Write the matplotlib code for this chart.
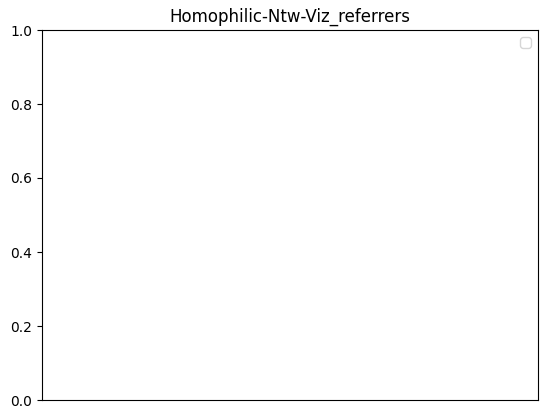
# empty network viz of referrers (nothing got drawn)
import matplotlib
matplotlib.use("Agg")
import matplotlib.pyplot as plt

title = "Homophilic-Ntw-Viz_referrers"
nodes = []
edges = []

fig = plt.figure(figsize=(5.51, 4.18), dpi=100)
ax = fig.add_axes([42/551, 1-400/418, 496/551, 370/418])

for (a, b) in edges:
    ax.plot([a, b], lw=1)

ax.set_title(title)
ax.set_xticks([])
ax.set_ylim(0, 1)
ax.legend(handles=[], loc="upper right")

fig.savefig("out.png", dpi=100)
